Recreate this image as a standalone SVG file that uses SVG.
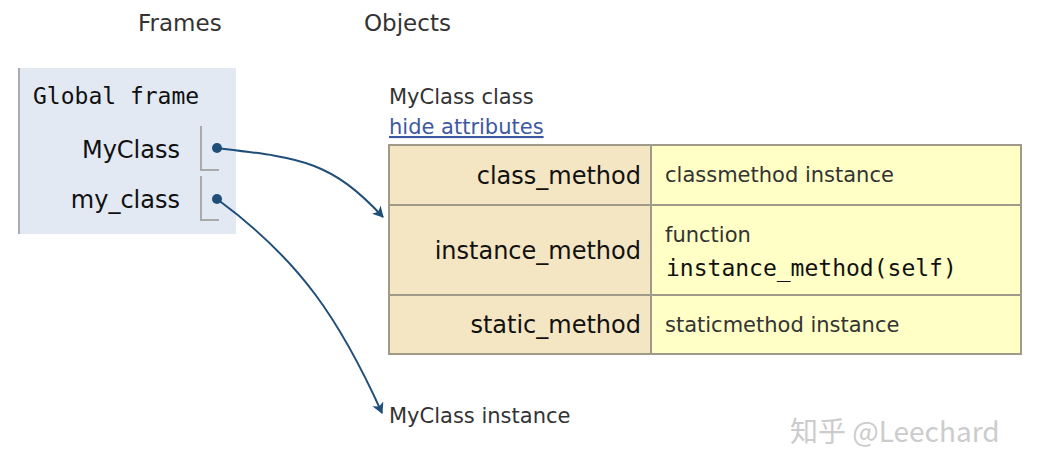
<svg xmlns="http://www.w3.org/2000/svg" width="1058" height="476" viewBox="0 0 1058 476">
<style>
.h{font-family:"DejaVu Sans",Verdana,sans-serif;font-size:23px;fill:#333}
.v{font-family:"DejaVu Sans",Verdana,sans-serif;font-size:21px;fill:#333}
.k{font-family:"DejaVu Sans",Verdana,sans-serif;font-size:24px;fill:#111}
.m{font-family:"DejaVu Sans Mono","Liberation Mono",monospace;font-size:23px;fill:#111}
.ptr{fill:none;stroke:#aaa;stroke-width:2}
.c{fill:none;stroke:#1f4e79;stroke-width:2}
</style>
<defs><marker id="a" markerWidth="12" markerHeight="12" refX="10" refY="6" orient="auto" markerUnits="userSpaceOnUse"><path d="M0,0 L11,6 L0,12 L3,6 Z" fill="#1f4e79"/></marker></defs>
<text class="h" x="138" y="31">Frames</text>
<text class="h" x="364" y="31">Objects</text>
<g id="global-frame">
<rect x="18" y="68" width="218" height="166" fill="#e2e9f3"/>
<line x1="19" y1="68" x2="19" y2="234" stroke="#aab" stroke-width="2"/>
<text class="m" x="33" y="104">Global frame</text>
<text class="k" x="180" y="158" text-anchor="end">MyClass</text>
<text class="k" x="180" y="208" text-anchor="end">my_class</text>
<path class="ptr" d="M201,126 V170 H219"/>
<path class="ptr" d="M201,176 V220 H219"/>
<circle cx="217" cy="148" r="5" fill="#1f4e79"/>
<circle cx="217" cy="199" r="5" fill="#1f4e79"/>
</g>
<g id="myclass-class">
<text class="v" x="389" y="104">MyClass class</text>
<text class="v" x="389" y="134" fill="#3d58a2" style="fill:#3d58a2;text-decoration:underline">hide attributes</text>
<rect x="389" y="145" width="262" height="209" fill="#f5e6c3"/>
<rect x="651" y="145" width="370" height="209" fill="#ffffc6"/>
<g stroke="#a09a88" stroke-width="2" fill="none">
<rect x="389" y="145" width="632" height="209"/>
<line x1="389" y1="205" x2="1021" y2="205"/>
<line x1="389" y1="295" x2="1021" y2="295"/>
<line x1="651" y1="145" x2="651" y2="354"/>
</g>
<text class="k" x="641" y="184" text-anchor="end">class_method</text>
<text class="k" x="641" y="259" text-anchor="end">instance_method</text>
<text class="k" x="641" y="333" text-anchor="end">static_method</text>
<text class="v" x="665" y="182">classmethod instance</text>
<text class="v" x="665" y="242">function</text>
<text class="m" x="666" y="276">instance_method(self)</text>
<text class="v" x="665" y="332">staticmethod instance</text>
</g>
<g id="myclass-instance">
<text class="v" x="389" y="423">MyClass instance</text>
</g>
<g id="connectors">
<path class="c" d="M217,148 C300,158 330,160 383,217" marker-end="url(#a)"/>
<path class="c" d="M217,199 C300,260 340,320 382,413" marker-end="url(#a)"/>
</g>
<text x="790" y="442" font-family="'Noto Sans CJK SC','DejaVu Sans',sans-serif" font-size="28" fill="#ccc">知乎 @Leechard</text>
</svg>
